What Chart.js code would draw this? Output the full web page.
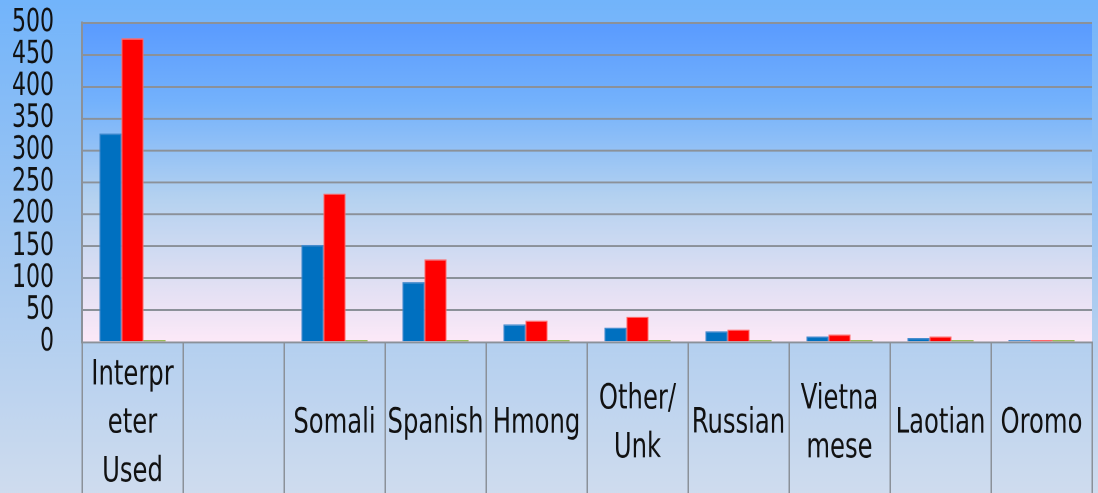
<!DOCTYPE html>
<html>
<head>
<meta charset="utf-8">
<script src="https://cdn.jsdelivr.net/npm/chart.js@4/dist/chart.umd.min.js"></script>
<style>
  html { margin: 0; padding: 0; overflow: hidden; }
  body { margin: 0; padding: 0; width: 1098px; height: 493px; background: #cfdcee; }
  /* the original slide is stretched vertically, so the chart is drawn short and scaled */
  #langChart { display: block; transform: scaleY(1.3008); transform-origin: 0 0; }
</style>
</head>
<body>
<canvas id="langChart" width="1098" height="379"></canvas>
<script>
const categories = [
  ["Interpr", "eter", "Used"], "", "Somali", "Spanish", "Hmong",
  ["Other/", "Unk"], "Russian", ["Vietna", "mese"], "Laotian", "Oromo"
];
const series1 = [327, null, 152, 94, 28, 23, 17, 9, 6, 3];
const series2 = [476, null, 233, 130, 34, 40, 20, 12, 9, 3];
const series3 = [3, null, 3, 3, 3, 3, 3, 3, 3, 3];

const fontFamily = "'DejaVu Sans Condensed', 'Liberation Sans', sans-serif";
const gridGrey = "#8b9199";

// outer and plot-area gradients
const backdrop = {
  id: "backdrop",
  beforeDraw(chart) {
    const { ctx, width, height, chartArea: a } = chart;
    ctx.save();
    let g = ctx.createLinearGradient(0, 0, 0, height);
    g.addColorStop(0, "#72b4fb");
    g.addColorStop(0.5, "#a3c8f1");
    g.addColorStop(1, "#cfdcee");
    ctx.fillStyle = g;
    ctx.fillRect(0, 0, width, height);

    g = ctx.createLinearGradient(0, a.top, 0, a.bottom);
    g.addColorStop(0, "#5a9bff");
    g.addColorStop(0.25, "#74b2fc");
    g.addColorStop(0.55, "#b5d2f0");
    g.addColorStop(0.8, "#dedff3");
    g.addColorStop(1, "#fde9f8");
    ctx.fillStyle = g;
    ctx.fillRect(a.left, a.top, a.right - a.left, a.bottom - a.top);
    ctx.restore();
  }
};

const ctx = document.getElementById("langChart");

new Chart(ctx, {
  type: "bar",
  data: {
    labels: categories,
    datasets: [
      { label: "Series 1", data: series1, backgroundColor: "#0070c0", borderColor: "#3d87cc", borderWidth: 1 },
      { label: "Series 2", data: series2, backgroundColor: "#ff0000", borderColor: "#ff6a6a", borderWidth: 1 },
      { label: "Series 3", data: series3, backgroundColor: "#9bbb59", borderColor: "#9bbb59", borderWidth: 0 },
    ],
  },
  options: {
    responsive: false,
    devicePixelRatio: 2,
    animation: false,
    layout: { padding: { top: 17.7, right: 6, bottom: 0, left: 0 } },
    datasets: { bar: { categoryPercentage: 0.655, barPercentage: 1 } },
    plugins: {
      legend: { display: false },
      tooltip: { enabled: false },
    },
    scales: {
      x: {
        grid: {
          drawOnChartArea: false,
          drawTicks: true,
          tickLength: 130,
          color: gridGrey,
          lineWidth: 1.5,
        },
        border: { color: gridGrey, width: 1.5 },
        ticks: {
          color: "#111",
          font: { family: fontFamily, size: 27, lineHeight: 1.382 },
          padding: -104.6,
          crossAlign: "center",
          maxRotation: 0,
          minRotation: 0,
          autoSkip: false,
        },
        afterFit(scale) { scale.height = 116; },
      },
      y: {
        min: 0,
        max: 500,
        ticks: {
          stepSize: 50,
          autoSkip: false,
          color: "#111",
          padding: 0,
          font: { family: fontFamily, size: 24.5, lineHeight: 1.2 },
        },
        grid: {
          color: gridGrey,
          lineWidth: 1.5,
          drawTicks: true,
          tickLength: 28,
          tickColor: "rgba(0,0,0,0)",
        },
        border: { color: gridGrey, width: 2 },
        afterFit(scale) { scale.width = 82; },
      },
    },
  },
  plugins: [backdrop],
});
</script>
</body>
</html>
